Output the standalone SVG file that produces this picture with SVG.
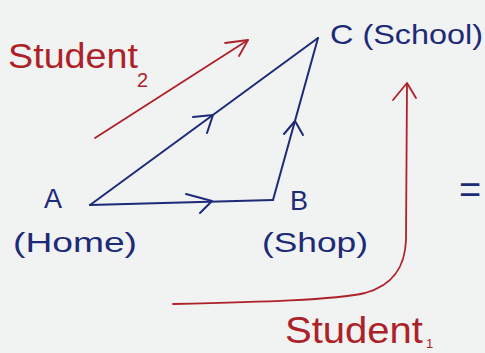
<svg xmlns="http://www.w3.org/2000/svg" width="485" height="353" viewBox="0 0 485 353">
<style>
.bg{fill:#f1f2f2}
.blue{stroke:#1d2a78;stroke-width:2;fill:none;stroke-linecap:round;stroke-linejoin:round}
.red{stroke:#ad2229;stroke-width:1.8;fill:none;stroke-linecap:round;stroke-linejoin:round}
.bt{fill:#1d2a78;font-family:"Liberation Sans",Arial,sans-serif}
.rt{fill:#ad2229;font-family:"Liberation Sans",Arial,sans-serif}
</style>
<rect class="bg" x="0" y="0" width="485" height="353"/>
<g id="connectors">
  <g id="edge-A-C">
    <path class="blue" d="M90,205 L318,38"/>
    <path class="blue" d="M193,117 L213,115 L207,133"/>
  </g>
  <g id="edge-A-B">
    <path class="blue" d="M90,205 L273,200"/>
    <path class="blue" d="M186,194 L212,201 L200,213"/>
  </g>
  <g id="edge-B-C">
    <path class="blue" d="M273,200 L318,38"/>
    <path class="blue" d="M284,134 L295,121 L303,135"/>
  </g>
  <g id="student2-path">
    <path class="red" d="M95,138 L248,40"/>
    <path class="red" d="M225,43 L248,40 L239,56"/>
  </g>
  <g id="student1-path">
    <path class="red" d="M173,304 C260,302 335,300 365,293 C395,285 405,265 406,240 L407,84"/>
    <path class="red" d="M393,100 L407,83 L416,98"/>
  </g>
</g>
<g id="node-A">
  <text class="bt" x="44" y="208" font-size="27">A</text>
  <text class="bt" x="13" y="252" font-size="27" textLength="124" lengthAdjust="spacingAndGlyphs">(Home)</text>
</g>
<g id="node-B">
  <text class="bt" x="290" y="210" font-size="27">B</text>
  <text class="bt" x="262" y="252" font-size="27" textLength="106" lengthAdjust="spacingAndGlyphs">(Shop)</text>
</g>
<g id="node-C">
  <text class="bt" x="330" y="44" font-size="28" textLength="153" lengthAdjust="spacingAndGlyphs">C (School)</text>
</g>
<g id="label-student2">
  <text class="rt" x="8" y="68" font-size="35" textLength="130" lengthAdjust="spacingAndGlyphs">Student</text>
  <text class="rt" x="137" y="87" font-size="20">2</text>
</g>
<g id="label-student1">
  <text class="rt" x="285" y="343" font-size="36" textLength="138" lengthAdjust="spacingAndGlyphs">Student</text>
  <text class="rt" x="426" y="348" font-size="13">1</text>
</g>
<text class="bt" x="459" y="203" font-size="38">=</text>
</svg>
